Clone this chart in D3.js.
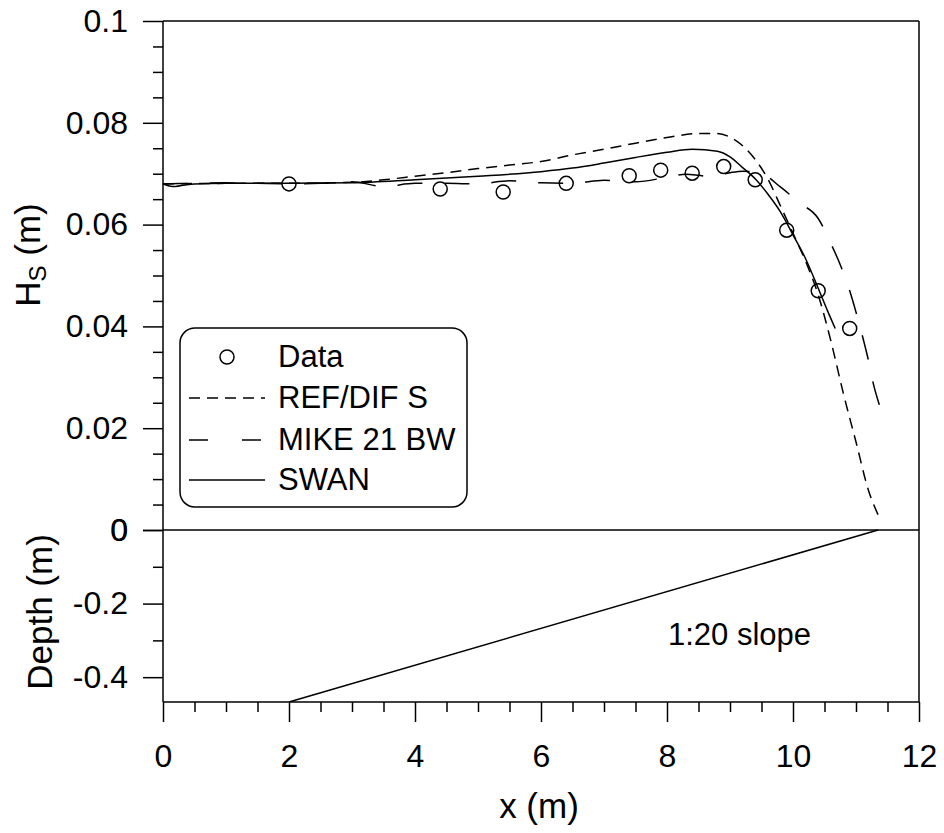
<!DOCTYPE html>
<html>
<head>
<meta charset="utf-8">
<script src="https://cdn.jsdelivr.net/npm/d3@7"></script>
<style>
  html, body { margin: 0; padding: 0; background: #fff; }
  svg { display: block; }
  text { font-family: "Liberation Sans", Arial, sans-serif; fill: #000; }
</style>
</head>
<body>
<svg id="chart" width="944" height="833"></svg>
<script>
// ---- Data ----
const dataX = [2.0, 4.4, 5.4, 6.4, 7.4, 7.9, 8.4, 8.9, 9.4, 9.9, 10.4, 10.9];
const dataH = [0.0680, 0.0670, 0.0664, 0.0681, 0.0696, 0.0707, 0.0701, 0.0714, 0.0688, 0.0589, 0.0470, 0.0396];

const refdifX = [0, 1, 2, 3, 3.5, 4, 4.5, 5, 5.5, 6, 6.5, 7, 7.5, 8, 8.5, 8.8, 9.0, 9.2, 9.4, 9.6, 9.8, 10.0, 10.2, 10.4, 10.6, 10.8, 11.0, 11.2, 11.35];
const refdifH = [0.0680, 0.0681, 0.0681, 0.0683, 0.0688, 0.0695, 0.0702, 0.0710, 0.0717, 0.0724, 0.0737, 0.0748, 0.0760, 0.0771, 0.0779, 0.0779, 0.0772, 0.0755, 0.0728, 0.0690, 0.0637, 0.0583, 0.0528, 0.0462, 0.0372, 0.0268, 0.0173, 0.0077, 0.0030];

const mikeX = [0, 0.5, 1, 1.5, 2, 2.5, 3, 3.5, 4, 4.5, 5, 5.5, 6, 6.5, 7, 7.5, 8, 8.3, 8.5, 8.7, 9.0, 9.2, 9.5, 9.8, 10.1, 10.4, 10.6, 10.75, 10.9, 11.0, 11.1, 11.2, 11.28, 11.37];
const mikeH = [0.0680, 0.0681, 0.0682, 0.0681, 0.0680, 0.0681, 0.0684, 0.0675, 0.0681, 0.0681, 0.0680, 0.0686, 0.0682, 0.0681, 0.0687, 0.0684, 0.0693, 0.0699, 0.0697, 0.0694, 0.0702, 0.0705, 0.0700, 0.0674, 0.0643, 0.0612, 0.0563, 0.0521, 0.0470, 0.0428, 0.0382, 0.0332, 0.0285, 0.0246];

const swanX = [0, 0.1, 0.2, 0.35, 0.5, 1, 2, 3, 4, 5, 6, 6.5, 7, 7.5, 8, 8.4, 8.8, 9.0, 9.2, 9.4, 9.6, 9.8, 10.0, 10.2, 10.4, 10.55, 10.67];
const swanH = [0.0680, 0.0676, 0.0675, 0.0678, 0.0680, 0.0681, 0.0681, 0.0682, 0.0688, 0.0695, 0.0704, 0.0711, 0.0721, 0.0732, 0.0742, 0.0748, 0.0744, 0.0733, 0.0712, 0.0690, 0.0660, 0.0625, 0.0580, 0.0533, 0.0475, 0.0430, 0.0396];

const slopeX = [2, 11.35];
const slopeDepth = [-0.4675, 0];

const xTicks = [0, 2, 4, 6, 8, 10, 12];
const hTicks = [0, 0.02, 0.04, 0.06, 0.08, 0.1];
const hTickLabels = ["0", "0.02", "0.04", "0.06", "0.08", "0.1"];
const dTicks = [0, -0.2, -0.4];
const dTickLabels = ["0", "-0.2", "-0.4"];

const legendLabels = ["Data", "REF/DIF S", "MIKE 21 BW", "SWAN"];

// ---- Layout ----
const svg = d3.select("#chart");
const L = 163, R = 919, T = 21, Z = 530, B = 702;

const x = d3.scaleLinear().domain([0, 12]).range([L, R]);
const yH = d3.scaleLinear().domain([0, 0.1]).range([Z, T]);
const yD = d3.scaleLinear().domain([-0.4675, 0]).range([B, Z]);

const stroke = "#000";
const sw = 1.5;

// minor ticks
const hMinor = d3.range(0, 0.1001, 0.005).filter(v => Math.abs(v / 0.02 - Math.round(v / 0.02)) > 1e-6);
const dMinor = [-0.1, -0.3];
const xMinor = d3.range(0, 12.001, 0.5).filter(v => Math.abs(v / 2 - Math.round(v / 2)) > 1e-6);

const g = svg.append("g");

// Top panel left axis
const axH = d3.axisLeft(yH).tickValues(hTicks).tickFormat((d, i) => hTickLabels[i]).tickSize(20).tickPadding(15);
const gH = g.append("g").attr("transform", `translate(${L},0)`).call(axH);
const axHm = d3.axisLeft(yH).tickValues(hMinor).tickFormat("").tickSize(10);
const gHm = g.append("g").attr("transform", `translate(${L},0)`).call(axHm);

// Bottom panel left axis
const axD = d3.axisLeft(yD).tickValues(dTicks).tickFormat((d, i) => dTickLabels[i]).tickSize(20).tickPadding(15);
const gD = g.append("g").attr("transform", `translate(${L},0)`).call(axD);
const axDm = d3.axisLeft(yD).tickValues(dMinor).tickFormat("").tickSize(10);
const gDm = g.append("g").attr("transform", `translate(${L},0)`).call(axDm);

// Bottom x axis
const axX = d3.axisBottom(x).tickValues(xTicks).tickFormat(d3.format("d")).tickSize(20).tickPadding(12);
const gX = g.append("g").attr("transform", `translate(0,${B})`).call(axX);
const axXm = d3.axisBottom(x).tickValues(xMinor).tickFormat("").tickSize(10);
const gXm = g.append("g").attr("transform", `translate(0,${B})`).call(axXm);

[gH, gHm, gD, gDm, gX, gXm].forEach(a => {
  a.select(".domain").remove();
  a.selectAll("line").attr("stroke", stroke).attr("stroke-width", sw);
  a.selectAll("text").style("font-family", '"Liberation Sans", Arial, sans-serif').style("font-size", "32px").attr("fill", "#000");
});
gX.selectAll("text").attr("dy", "1.03em");

// frame lines
g.append("line").attr("x1", L).attr("x2", R).attr("y1", T).attr("y2", T).attr("stroke", stroke).attr("stroke-width", sw);
g.append("line").attr("x1", L).attr("x2", R).attr("y1", Z).attr("y2", Z).attr("stroke", stroke).attr("stroke-width", sw);
g.append("line").attr("x1", L).attr("x2", R).attr("y1", B).attr("y2", B).attr("stroke", stroke).attr("stroke-width", sw);
g.append("line").attr("x1", L).attr("x2", L).attr("y1", T).attr("y2", B).attr("stroke", stroke).attr("stroke-width", sw);
g.append("line").attr("x1", R).attr("x2", R).attr("y1", T).attr("y2", B).attr("stroke", stroke).attr("stroke-width", sw);

// lines
const lineH = d3.line().x(d => x(d[0])).y(d => yH(d[1])).curve(d3.curveMonotoneX);
const zipH = (xs, ys) => xs.map((v, i) => [v, ys[i]]);

g.append("path").datum(zipH(refdifX, refdifH)).attr("d", lineH)
  .attr("fill", "none").attr("stroke", stroke).attr("stroke-width", sw).attr("stroke-dasharray", "11,7");
g.append("path").datum(zipH(mikeX, mikeH)).attr("d", lineH)
  .attr("fill", "none").attr("stroke", stroke).attr("stroke-width", sw).attr("stroke-dasharray", "25,22");
g.append("path").datum(zipH(swanX, swanH)).attr("d", lineH)
  .attr("fill", "none").attr("stroke", stroke).attr("stroke-width", sw);

// data points
g.selectAll("circle.data").data(zipH(dataX, dataH)).enter().append("circle")
  .attr("class", "data")
  .attr("cx", d => x(d[0])).attr("cy", d => yH(d[1])).attr("r", 7)
  .attr("fill", "none").attr("stroke", stroke).attr("stroke-width", sw);

// slope
const lineD = d3.line().x(d => x(d[0])).y(d => yD(d[1]));
g.append("path").datum(zipH(slopeX, slopeDepth)).attr("d", lineD)
  .attr("fill", "none").attr("stroke", stroke).attr("stroke-width", sw);

g.append("text").attr("x", 668).attr("y", 645).style("font-size", "31px").text("1:20 slope");

// axis titles
g.append("text").attr("x", 539).attr("y", 818).attr("text-anchor", "middle").style("font-size", "35px").text("x (m)");
const ht = g.append("text").attr("transform", "translate(40,255) rotate(-90)").attr("text-anchor", "middle").style("font-size", "35px");
ht.append("tspan").text("H");
ht.append("tspan").attr("dy", "0.25em").style("font-size", "24px").text("S");
ht.append("tspan").attr("dy", "-0.17em").text(" (m)");
g.append("text").attr("transform", "translate(52,612) rotate(-90)").attr("text-anchor", "middle").style("font-size", "35px").text("Depth (m)");

// legend
const lg = g.append("g");
lg.append("rect").attr("x", 180).attr("y", 328).attr("width", 287).attr("height", 179).attr("rx", 15).attr("ry", 15)
  .attr("fill", "#fff").attr("stroke", stroke).attr("stroke-width", sw);
const rowY = [357, 398, 440, 480];
const dashes = [null, "11,7", "19,34", null];
legendLabels.forEach((lab, i) => {
  if (i === 0) {
    lg.append("circle").attr("cx", 227).attr("cy", rowY[i]).attr("r", 7).attr("fill", "none").attr("stroke", stroke).attr("stroke-width", sw);
  } else {
    const ln = lg.append("line").attr("x1", 189).attr("x2", 265).attr("y1", rowY[i]).attr("y2", rowY[i])
      .attr("stroke", stroke).attr("stroke-width", sw);
    if (dashes[i]) ln.attr("stroke-dasharray", dashes[i]);
  }
  lg.append("text").attr("x", 278).attr("y", rowY[i] + 10).style("font-size", "31px").text(lab);
});
</script>
</body>
</html>
